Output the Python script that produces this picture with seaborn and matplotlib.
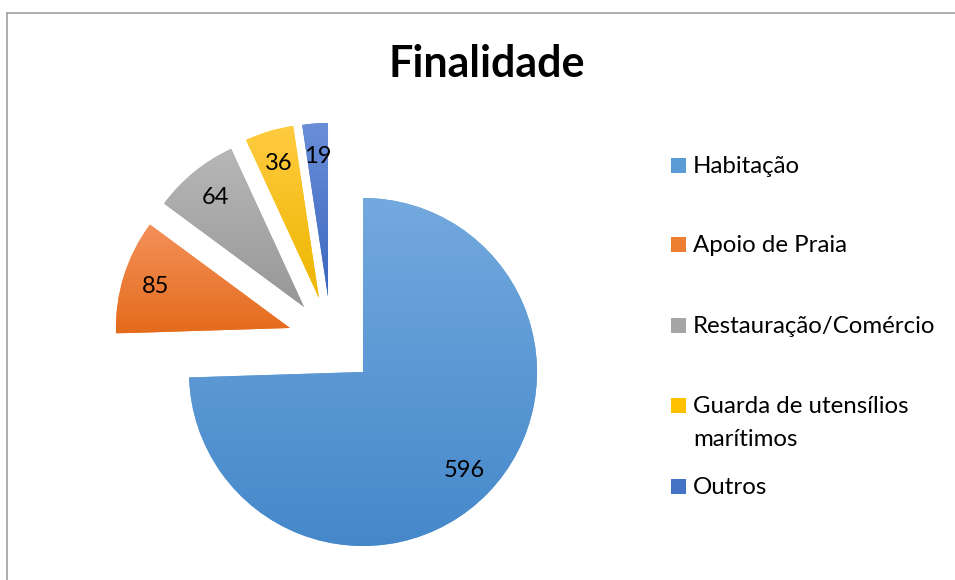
import numpy as np
import matplotlib
matplotlib.use("Agg")
import matplotlib.pyplot as plt
from matplotlib.colors import LinearSegmentedColormap
from matplotlib.patches import Rectangle
from matplotlib.lines import Line2D
import seaborn as sns

# ---- data ----
categories = ["Habitação", "Apoio de Praia", "Restauração/Comércio",
              "Guarda de utensílios\nmarítimos", "Outros"]
values = [596, 85, 64, 36, 19]
title = "Finalidade"

# ---- style ----
top_colors = ["#73A9DE", "#F4915A", "#B7B7B7", "#FFCB40", "#6A8FD8"]
bottom_colors = ["#4588CA", "#E46B1C", "#979797", "#EDB600", "#3A66BF"]
mid_colors = ["#5B9BD5", "#ED7D31", "#A5A5A5", "#FFC000", "#4472C4"]
# explosion offsets (in pie radii), per slice
offsets = [(0.0, 0.0), (-0.420, 0.253), (-0.339, 0.374), (-0.253, 0.425), (-0.201, 0.431)]

sns.set_theme(style="white")
plt.rcParams["font.family"] = ["Lato", "DejaVu Sans"]

W, H = 955, 580
fig = plt.figure(figsize=(W / 100, H / 100), dpi=100)
fig.patch.set_facecolor("white")

R = 174.0           # pie radius in px
cx, cy = 363.0, 372.0  # pie centre in px (from top-left)
ax = fig.add_axes([0, 0, 1, 1])

total = sum(values)
wedges, texts, autotexts = ax.pie(
    values, startangle=90, counterclock=False, radius=1,
    colors=mid_colors, autopct=lambda p: f"{round(p * total / 100):d}",
    pctdistance=0.81, wedgeprops=dict(linewidth=0),
    textprops=dict(fontsize=17, color="#000000"))

for i, (w, t) in enumerate(zip(wedges, autotexts)):
    dx, dy = offsets[i]
    w.set_center((dx, dy))
    x, y = t.get_position()
    t.set_position((x + dx, y + dy))
    t.set_zorder(5)
    # vertical gradient fill clipped to the wedge
    ext = w.get_path().get_extents()
    cmap = LinearSegmentedColormap.from_list(f"g{i}", [top_colors[i], bottom_colors[i]])
    grad = np.linspace(0, 1, 256).reshape(-1, 1)
    im = ax.imshow(grad, cmap=cmap, aspect="auto", origin="upper",
                   extent=(ext.x0, ext.x1, ext.y0, ext.y1), zorder=2,
                   interpolation="bilinear")
    im.set_clip_path(w)

ax.set_xlim(-cx / R, (W - cx) / R)
ax.set_ylim((cy - H) / R, cy / R)
ax.set_aspect("auto")
ax.axis("off")

# ---- title ----
fig.text(487 / W, 1 - 77 / H, title, ha="center", va="baseline",
         fontsize=31, fontweight="bold", color="#000000")

# ---- legend (Excel-like, marker next to first line) ----
leg_baselines = [173, 252, 333, 413, 494]
sq = 15
for i, lab in enumerate(categories):
    b = leg_baselines[i]
    fig.add_artist(Rectangle((671 / W, 1 - b / H), sq / W, sq / H,
                             transform=fig.transFigure, facecolor=mid_colors[i],
                             edgecolor="none"))
    lines = lab.split("\n")
    for j, ln in enumerate(lines):
        fig.text(693 / W, 1 - (b + 33 * j) / H, ln, ha="left", va="baseline",
                 fontsize=17.3, color="#000000")

# ---- chart border ----
fig.add_artist(Line2D([7 / W, 7 / W], [0, 1 - 12.5 / H], transform=fig.transFigure,
                      color="#A0A0A0", linewidth=1.2))
fig.add_artist(Line2D([7 / W, 1], [1 - 12.5 / H, 1 - 12.5 / H], transform=fig.transFigure,
                      color="#A0A0A0", linewidth=1.2))

fig.savefig("out.png", dpi=100, facecolor="white")
